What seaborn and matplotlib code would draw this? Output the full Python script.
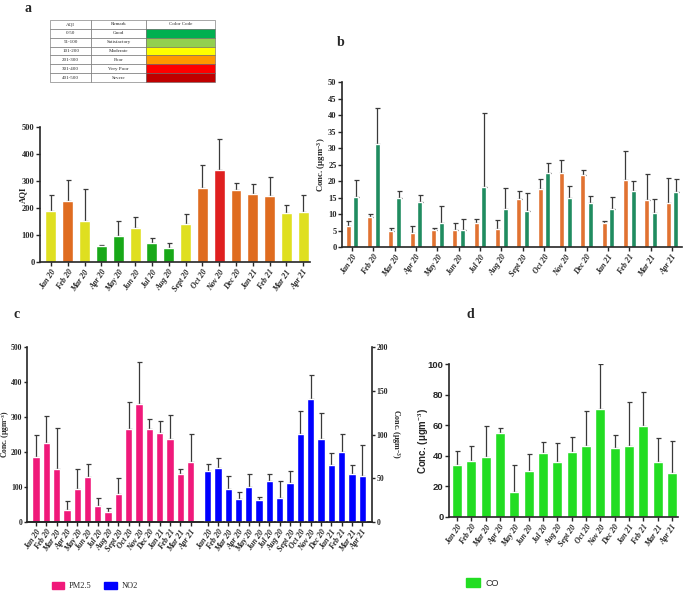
import numpy as np
import pandas as pd
import matplotlib
matplotlib.use("Agg")
import matplotlib.pyplot as plt
from matplotlib.patches import Patch
import seaborn as sns

# ---------------- data ----------------
months = ["Jan 20", "Feb 20", "Mar 20", "Apr 20", "May 20", "Jun 20", "Jul 20", "Aug 20",
          "Sept 20", "Oct 20", "Nov 20", "Dec 20", "Jan 21", "Feb 21", "Mar 21", "Apr 21"]

aqi_mean = [189, 225, 153, 58, 95, 127, 70, 52, 142, 275, 340, 265, 253, 246, 180, 184]
aqi_top = [247, 302, 269, 64, 151, 167, 90, 72, 177, 360, 457, 294, 289, 314, 211, 247]
aqi_color = ["#FFFF00", "#FF6600", "#FFFF00", "#00C000", "#00C000", "#FFFF00", "#00C000", "#00C000",
             "#FFFF00", "#FF6600", "#FF0000", "#FF6600", "#FF6600", "#FF6600", "#FFFF00", "#FFFF00"]

table_aqi = ["0-50", "51-100", "101-200", "201-300", "301-400", "401-500"]
table_remark = ["Good", "Satisfactory", "Moderate", "Poor", "Very Poor", "Severe"]
table_color = ["#00B050", "#92D050", "#FFFF00", "#FF9900", "#FF0000", "#C00000"]

b_orange_mean = [6.3, 9.0, 4.7, 4.3, 5.3, 5.3, 7.4, 5.6, 14.6, 17.6, 22.3, 21.7, 7.3, 20.3, 14.3, 13.3]
b_orange_top = [7.9, 10.0, 5.8, 6.4, 5.9, 7.4, 8.5, 8.2, 17.0, 20.6, 26.4, 23.2, 8.0, 29.0, 22.0, 21.0]
b_green_mean = [15.3, 31.3, 15.0, 13.6, 7.3, 5.3, 18.3, 11.6, 11.0, 22.3, 15.0, 13.3, 11.6, 16.9, 10.3, 16.6]
b_green_top = [20.3, 42.2, 17.0, 15.8, 12.5, 8.6, 40.6, 18.0, 16.5, 25.6, 18.6, 15.6, 15.2, 20.0, 14.4, 20.7]

pm25_mean = [187, 225, 151, 33, 95, 129, 47, 30, 81, 267, 336, 267, 254, 238, 138, 171]
pm25_top = [248, 302, 270, 60, 151, 167, 68, 39, 126, 344, 456, 294, 290, 307, 151, 252]
no2_mean = [58.5, 61.3, 38, 26.7, 40, 25, 47, 28, 45, 101, 140.6, 95, 65, 80, 54.5, 53]
no2_top = [66.7, 72.8, 53, 34, 55, 28.6, 55, 47, 58.7, 127, 167.6, 125, 79, 101, 65.5, 87.6]

co_mean = [33.8, 36.9, 39.3, 54.6, 16.2, 30.1, 41.9, 35.8, 42.6, 46.5, 70.5, 45.0, 46.5, 59.8, 35.8, 28.8]
co_top = [43.2, 46.7, 59.6, 58.3, 34.1, 41.0, 48.7, 48.3, 52.4, 69.4, 100.0, 53.7, 74.9, 81.9, 51.5, 49.8]

# ---------------- style ----------------
sns.set_style("ticks")
plt.rcParams["font.family"] = ["Liberation Serif", "DejaVu Serif"]
plt.rcParams["font.weight"] = "bold"
plt.rcParams["mathtext.fontset"] = "custom"
plt.rcParams["mathtext.rm"] = "Liberation Serif:bold"
plt.rcParams["mathtext.it"] = "Liberation Serif:bold"
plt.rcParams["axes.linewidth"] = 1.2
plt.rcParams["xtick.major.width"] = 1.0
plt.rcParams["ytick.major.width"] = 1.0
plt.rcParams["xtick.major.size"] = 3
plt.rcParams["ytick.major.size"] = 3
plt.rcParams["xtick.major.pad"] = 1.5
plt.rcParams["ytick.major.pad"] = 1.0

W, H = 685, 598
fig = plt.figure(figsize=(W / 100, H / 100), dpi=100)


def px_axes(x0, y0, x1, y1):
    return fig.add_axes([x0 / W, 1 - y1 / H, (x1 - x0) / W, (y1 - y0) / H])


ERR = dict(fmt="none", ecolor="#3a3a3a", elinewidth=0.9, capsize=1.8, capthick=0.9, zorder=1)
XT = dict(rotation=55, ha="right", rotation_mode="anchor", fontsize=5.8, style="italic", fontweight="bold")


def style_ax(ax):
    sns.despine(ax=ax)
    ax.tick_params(axis="y", labelsize=6.0)
    ax.set_xlabel("")


def place_ylabel(ax, axis_x0, axis_w, center_px):
    yax = ax.yaxis
    yax.set_label_coords((center_px - axis_x0) / axis_w, 0.5)
    yax.label.set_va("center")
    yax.label.set_ha("center")


def add_err(ax, container, means, tops):
    xs = [p.get_x() + p.get_width() / 2 for p in container.patches]
    hs = [p.get_height() for p in container.patches]
    up = np.array(tops) - np.array(means)
    ax.errorbar(xs, hs, yerr=[np.zeros(len(up)), up], **ERR)


# ---------------- panel a: table ----------------
ax_t = px_axes(50, 20, 215, 82)
ax_t.axis("off")
cell_text = [["AQI", "Remark", "Color Code"]] + [[a, r, ""] for a, r in zip(table_aqi, table_remark)]
cell_col = [["white"] * 3] + [["white", "white", c] for c in table_color]
tbl = ax_t.table(cellText=cell_text, cellColours=cell_col, colWidths=[0.25, 0.33, 0.42],
                 bbox=[0, 0, 1, 1], cellLoc="center")
tbl.auto_set_font_size(False)
tbl.set_fontsize(3.6)
for (r, c), cell in tbl.get_celld().items():
    cell.set_linewidth(0.4)
    cell.set_edgecolor("#666666")
    cell.get_text().set_fontweight("normal")

# ---------------- panel a: AQI ----------------
ax_a = px_axes(40, 127, 310, 262)
dfa = pd.DataFrame({"month": months, "aqi": aqi_mean})
sns.barplot(data=dfa, x="month", y="aqi", hue="month", palette=aqi_color, legend=False,
            width=0.65, ax=ax_a, zorder=2)
for cont, m, t in zip(ax_a.containers, aqi_mean, aqi_top):
    add_err(ax_a, cont, [m], [t])
ax_a.set_ylim(0, 500)
ax_a.set_yticks(range(0, 501, 100))
ax_a.set_xlim(-0.65, 15.4)
ax_a.set_xticks(range(16))
ax_a.set_xticklabels(months, **XT)
ax_a.set_ylabel("AQI", fontsize=6.3, fontweight="bold")
place_ylabel(ax_a, 40, 270, 23)
style_ax(ax_a)

# ---------------- panel b ----------------
ax_b = px_axes(342, 82, 682, 247)
dfb = pd.DataFrame({
    "month": months * 2,
    "value": b_orange_mean + b_green_mean,
    "series": ["s1"] * 16 + ["s2"] * 16,
})
sns.barplot(data=dfb, x="month", y="value", hue="series", palette=["#FF6A13", "#0E9E63"],
            width=0.72, gap=0.33, legend=False, ax=ax_b, zorder=2)
add_err(ax_b, ax_b.containers[0], b_orange_mean, b_orange_top)
add_err(ax_b, ax_b.containers[1], b_green_mean, b_green_top)
ax_b.set_ylim(0, 50)
ax_b.set_yticks(range(0, 51, 5))
ax_b.set_xlim(-0.47, 15.47)
ax_b.set_xticks(range(16))
ax_b.set_xticklabels(months, **XT)
ax_b.set_ylabel(r"Conc. (μgm$^{-3}$)", fontsize=6.3, fontweight="bold")
place_ylabel(ax_b, 342, 340, 321)
style_ax(ax_b)

# ---------------- panel c ----------------
ax_c = px_axes(27, 347, 372, 522)
ax_c2 = ax_c.twinx()
pm_pos = np.arange(16)
no2_pos = np.arange(16) + 16.65
sns.barplot(x=pm_pos, y=pm25_mean, native_scale=True, color="#F0197A", saturation=1,
            width=0.71, ax=ax_c, zorder=2)
add_err(ax_c, ax_c.containers[0], pm25_mean, pm25_top)
sns.barplot(x=no2_pos, y=no2_mean, native_scale=True, color="#0000FF", saturation=1,
            width=0.71, ax=ax_c2, zorder=2)
add_err(ax_c2, ax_c2.containers[0], no2_mean, no2_top)
for axx in (ax_c, ax_c2):
    axx.set_xlim(-0.87, 32.6)
ax_c.set_ylim(0, 500)
ax_c.set_yticks(range(0, 501, 100))
ax_c2.set_ylim(0, 200)
ax_c2.set_yticks(range(0, 201, 50))
ax_c.set_xticks(list(pm_pos) + list(no2_pos))
ax_c.set_xticklabels(months + months, **XT)
ax_c.set_ylabel(r"Conc. (μgm$^{-3}$)", fontsize=5.5, fontweight="bold")
place_ylabel(ax_c, 27, 345, 5.3)
ax_c2.set_ylabel(r"Conc. (μgm$^{-3}$)", fontsize=5.8, fontweight="bold", rotation=270)
place_ylabel(ax_c2, 27, 345, 395)
ax_c.spines["top"].set_visible(False)
ax_c.spines["right"].set_visible(False)
ax_c2.spines["top"].set_visible(False)
ax_c2.spines["left"].set_visible(False)
ax_c.tick_params(axis="y", labelsize=5.6, length=2.5, pad=0.8)
ax_c2.tick_params(axis="y", labelsize=5.6, length=2.5, pad=0.8)
ax_c.set_xlabel("")
ax_c2.set_xlabel("")
fig.legend(handles=[Patch(color="#F0197A", label="PM2.5"), Patch(color="#0000FF", label="NO2")],
           loc="center left", bbox_to_anchor=(44 / W, 1 - 586 / H), ncol=2, frameon=False,
           prop={"family": "Liberation Serif", "weight": "normal", "size": 6},
           handlelength=1.5, handleheight=1.0, columnspacing=1.5, handletextpad=0.6)

# ---------------- panel d ----------------
ax_d = px_axes(449, 364, 678, 517)
dfd = pd.DataFrame({"month": months, "co": co_mean})
sns.barplot(data=dfd, x="month", y="co", color="#22DD22", saturation=1, width=0.7, ax=ax_d, zorder=2)
add_err(ax_d, ax_d.containers[0], co_mean, co_top)
ax_d.set_ylim(0, 100)
ax_d.set_yticks(range(0, 101, 20))
ax_d.set_xlim(-0.56, 15.42)
ax_d.set_xticks(range(16))
ax_d.set_xticklabels(months, **XT)
style_ax(ax_d)
ax_d.tick_params(axis="y", labelsize=6.8)
for lab in ax_d.get_yticklabels():
    lab.set_family("Liberation Sans")
    lab.set_fontweight("bold")
ax_d.set_ylabel("Conc. (μgm$^{-3}$)", fontsize=7, fontweight="bold", family="Liberation Sans")
place_ylabel(ax_d, 449, 229, 424)
fig.legend(handles=[Patch(color="#22DD22", label="CO")],
           loc="center left", bbox_to_anchor=(458 / W, 1 - 583 / H), frameon=False,
           prop={"family": "Liberation Sans", "weight": "normal", "size": 6.5},
           handlelength=1.5, handleheight=1.0, handletextpad=0.6)

# ---------------- panel letters ----------------
for letter, (px, py) in {"a": (28, 9), "b": (341, 42), "c": (17, 314), "d": (470, 314)}.items():
    fig.text(px / W, 1 - py / H, letter, fontsize=10, fontweight="bold",
             family="Liberation Serif", ha="center", va="center")

fig.savefig("out.png", dpi=100)
